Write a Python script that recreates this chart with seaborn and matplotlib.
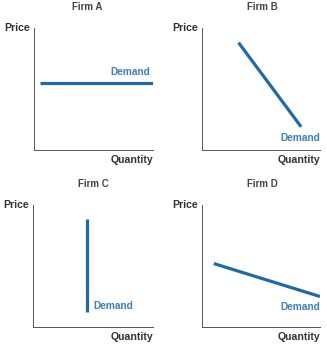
import matplotlib
matplotlib.use("Agg")
import matplotlib.pyplot as plt
import seaborn as sns
import pandas as pd

sns.set_theme(style="white")
plt.rcParams['font.family'] = ['Liberation Sans', 'DejaVu Sans']

titles = ["Firm A", "Firm B", "Firm C", "Firm D"]
x_label = "Quantity"
y_label = "Price"
curve_label = "Demand"
# demand curve endpoints (quantity, price) on a 0-10 scale
qty_a = [0.5, 10.0]; price_a = [5.5, 5.5]
qty_b = [3.1, 8.4]; price_b = [8.8, 1.9]
qty_c = [4.5, 4.5]; price_c = [8.85, 1.2]
qty_d = [1.0, 10.0]; price_d = [5.2, 2.5]

line_color = "#1f6aa5"
text_color = "#3d7fc0"
W, H = 327, 347
fig = plt.figure(figsize=(W / 100, H / 100), dpi=100)

# axes boxes in pixels: (left, top, right, bottom)
boxes = [(34, 28, 153, 150), (202, 28, 320, 150), (33, 205, 153, 327), (202, 205, 320, 327)]
series = [(qty_a, price_a), (qty_b, price_b), (qty_c, price_c), (qty_d, price_d)]
# label placements (x, y in data coords, ha, va)
label_pos = [(9.8, 6.0, "right", "bottom"), (10.0, 1.0, "right", "center"),
             (5.0, 1.7, "left", "center"), (10.0, 1.6, "right", "center")]
title_x = [87, 262, 93, 262]

for i in range(4):
    l, t, r, b = boxes[i]
    ax = fig.add_axes([l / W, 1 - b / H, (r - l) / W, (b - t) / H])
    q, p = series[i]
    df = pd.DataFrame({"q": q, "p": p})
    sns.lineplot(data=df, x="q", y="p", ax=ax, color=line_color, linewidth=2.3,
                 sort=False, estimator=None, errorbar=None, solid_capstyle="butt")
    ax.set_xlim(0, 10)
    ax.set_ylim(0, 10)
    ax.set_xticks([]); ax.set_yticks([])
    ax.set_xlabel(""); ax.set_ylabel("")
    for s in ["top", "right"]:
        ax.spines[s].set_visible(False)
    for s in ["left", "bottom"]:
        ax.spines[s].set_color("#555555")
        ax.spines[s].set_linewidth(0.7)
    lx, ly, ha, va = label_pos[i]
    ax.text(lx, ly, curve_label, color=text_color, fontsize=7.3, fontweight="bold",
            ha=ha, va=va)
    fig.text(l / W - 0.012, 1 - t / H, y_label, ha="right", va="center",
             fontsize=7.6, fontweight="bold", color="#333333")
    fig.text(r / W, 1 - (b + 10) / H, x_label, ha="right", va="center",
             fontsize=7.6, fontweight="bold", color="#333333")
    fig.text(title_x[i] / W, 1 - (t - 21) / H, titles[i], ha="center", va="center",
             fontsize=7.0, fontweight="bold", color="#444444")

fig.savefig("out.png", dpi=100)
